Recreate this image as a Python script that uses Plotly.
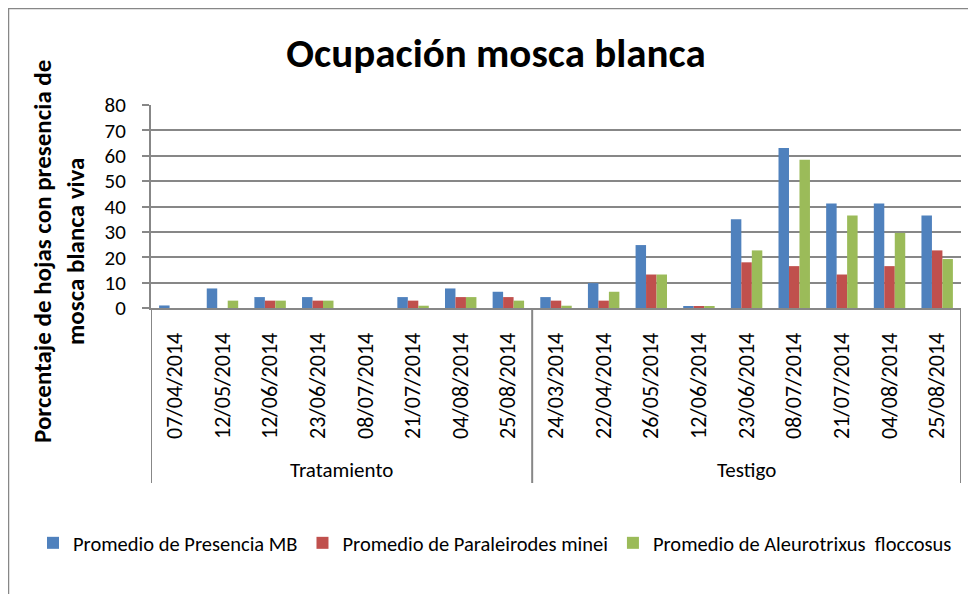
import plotly.graph_objects as go

groups = ["Tratamiento"] * 8 + ["Testigo"] * 9
dates = ["07/04/2014", "12/05/2014", "12/06/2014", "23/06/2014", "08/07/2014",
         "21/07/2014", "04/08/2014", "25/08/2014",
         "24/03/2014", "22/04/2014", "26/05/2014", "12/06/2014", "23/06/2014",
         "08/07/2014", "21/07/2014", "04/08/2014", "25/08/2014"]

presencia_mb = [1.0, 7.7, 4.3, 4.3, 0, 4.3, 7.7, 6.4,
                4.3, 9.8, 24.8, 0.8, 35.0, 63.1, 41.2, 41.2, 36.5]
paraleirodes = [0, 0, 2.9, 2.9, 0, 2.9, 4.3, 4.3,
                2.9, 2.9, 13.2, 0.8, 18.0, 16.5, 13.2, 16.5, 22.7]
aleurotrixus = [0, 2.9, 2.9, 2.9, 0, 0.9, 4.3, 2.9,
                0.9, 6.4, 13.2, 0.8, 22.7, 58.4, 36.5, 29.6, 19.3]

series_names = ["Promedio de Presencia MB", "Promedio de Paraleirodes minei",
                "Promedio de Aleurotrixus  floccosus"]
colors = ["#4F81BD", "#C0504D", "#9BBB59"]
y_ticks = [0, 10, 20, 30, 40, 50, 60, 70, 80]

FONT = "Carlito, Calibri, 'Liberation Sans', Arial, sans-serif"
GRAY = "#878787"

# category positions (one slot per date, in order)
xpos = list(range(len(dates)))

fig = go.Figure()
for name, vals, col in zip(series_names, [presencia_mb, paraleirodes, aleurotrixus], colors):
    fig.add_trace(go.Bar(x=xpos, y=vals, name=name,
                         marker=dict(color=col, line=dict(width=0))))

# page is offset by the 8px body margin
OFF = 8
W, H = 976 - OFF, 594 - OFF
L, T = 151 - OFF, 105 - OFF
R = W - (961 - OFF)
B = H - (308 - OFF)
pw, ph = W - L - R, H - T - B

def px_x(x):
    return (x - OFF - L) / pw

def px_y(y):
    return (H - B - (y - OFF)) / ph

# group labels and dividers derived from the group list
group_names = []
for g in groups:
    if g not in group_names:
        group_names.append(g)
annotations = []
shapes = []
bounds = [-0.5]
for g in group_names:
    idx = [i for i, gg in enumerate(groups) if gg == g]
    annotations.append(dict(text=g, xref="x", yref="paper",
                            x=sum(idx) / len(idx), y=px_y(470),
                            xanchor="center", yanchor="middle", showarrow=False,
                            font=dict(size=21, family=FONT, color="black")))
    bounds.append(max(idx) + 0.5)
for b in bounds:
    shapes.append(dict(type="line", xref="x", yref="paper", x0=b, x1=b,
                       y0=0, y1=px_y(483), line=dict(color=GRAY, width=2)))

annotations.append(dict(text="<b>Porcentaje de hojas con presencia de<br>mosca blanca viva</b>",
                        xref="paper", yref="paper", x=px_x(59), y=px_y(252),
                        xanchor="center", yanchor="middle", textangle=-90,
                        showarrow=False, font=dict(size=25, family=FONT, color="black")))
shapes.append(dict(type="rect", xref="paper", yref="paper",
                   x0=px_x(8.5), x1=px_x(1010), y0=px_y(650), y1=px_y(8.5),
                   line=dict(color=GRAY, width=1.5), fillcolor="rgba(0,0,0,0)",
                   layer="below"))

fig.update_layout(
    width=W, height=H,
    margin=dict(l=L, r=R, t=T, b=B),
    paper_bgcolor="white", plot_bgcolor="white",
    font=dict(family=FONT, color="black"),
    barmode="group", bargap=0.34, bargroupgap=0,
    title=dict(text="<b>Ocupación mosca blanca</b>", x=(496 - OFF) / W, xanchor="center",
               y=1 - (53 - OFF) / H, yanchor="middle", yref="container",
               font=dict(size=41, family=FONT, color="black")),
    showlegend=True,
    legend=dict(orientation="h", x=px_x(33), xanchor="left",
                y=px_y(543), yanchor="middle",
                font=dict(size=20.5, family=FONT), itemwidth=30,
                traceorder="normal", tracegroupgap=0),
    xaxis=dict(range=[-0.5, len(dates) - 0.5], tickvals=xpos, ticktext=dates,
               tickangle=-90, tickfont=dict(size=22, family=FONT),
               ticklabelstandoff=14,
               showline=True, linecolor=GRAY, linewidth=2,
               ticks="", showgrid=False, zeroline=False, fixedrange=True),
    yaxis=dict(range=[0, 80], tickvals=y_ticks, ticktext=[str(v) for v in y_ticks],
               tickfont=dict(size=21, family=FONT),
               showgrid=True, gridcolor=GRAY, gridwidth=2,
               showline=True, linecolor=GRAY, linewidth=2,
               ticks="outside", ticklen=7, tickcolor=GRAY, tickwidth=2,
               ticklabelstandoff=12, zeroline=False, fixedrange=True),
    annotations=annotations,
    shapes=shapes,
)

fig.write_html("out.html")
